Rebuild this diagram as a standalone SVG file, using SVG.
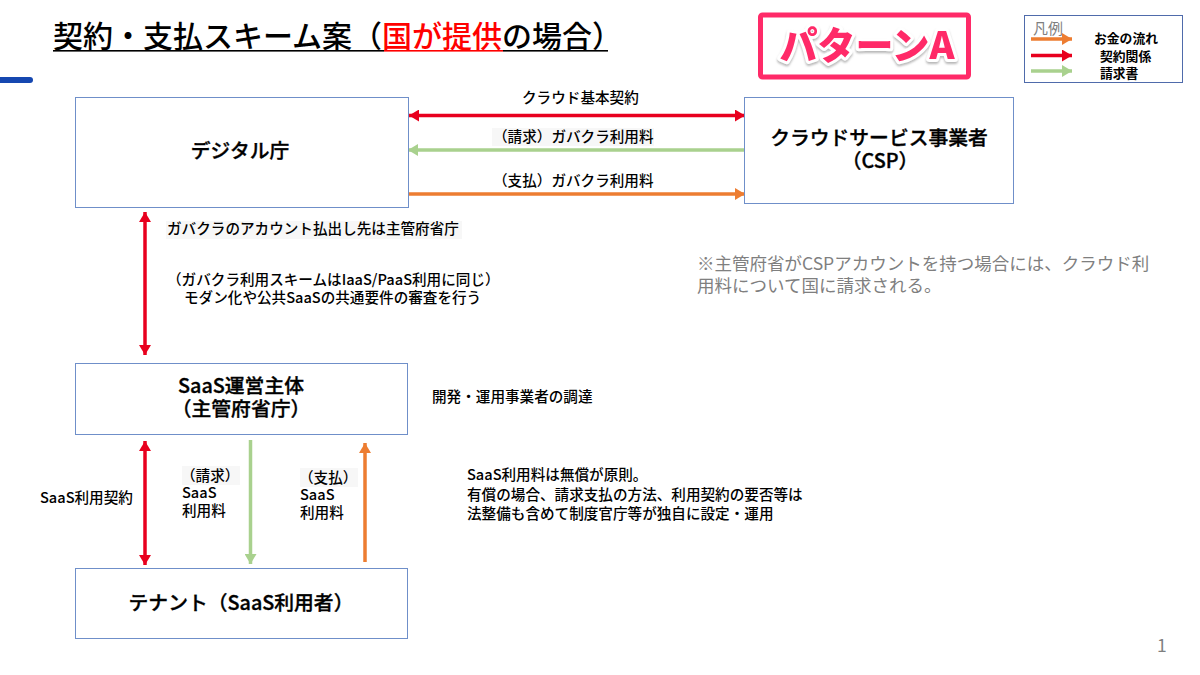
<svg xmlns="http://www.w3.org/2000/svg" width="1200" height="675" viewBox="0 0 1200 675">
<style>
text{font-family:"Noto Sans CJK JP","Liberation Sans",sans-serif;fill:#000;text-spacing-trim:space-all}
.box{fill:#fff;stroke:#6f8fc9;stroke-width:1}
.node{font-size:19.8px;font-weight:500;text-anchor:middle;stroke:#000;stroke-width:.35}
.lab{font-size:14.6px;font-weight:500}
.leg{font-size:12.8px;font-weight:700}
.gray{fill:#7f7f7f;font-size:17.5px;font-weight:400}
.pat{fill:#ff2a68;font-size:38px;font-weight:900;text-anchor:middle;stroke:#fff;stroke-width:6;stroke-linejoin:round;paint-order:stroke;filter:url(#sh)}
.shade{fill:#f7f7f7}
.r{stroke:#e8001e;stroke-width:3.5;fill:none}
.g{stroke:#a9d18e;stroke-width:3.5;fill:none}
.o{stroke:#ed7d31;stroke-width:3.5;fill:none}
</style>
<defs>
<filter id="sh" x="-10%" y="-20%" width="120%" height="150%"><feDropShadow dx="0" dy="2" stdDeviation="1.2" flood-color="#999" flood-opacity=".7"/></filter>
<marker id="hr" markerUnits="userSpaceOnUse" markerWidth="11" markerHeight="12" refX="10" refY="6" orient="auto-start-reverse"><path d="M0 0L10 6L0 12Z" fill="#e8001e"/></marker>
<marker id="hg" markerUnits="userSpaceOnUse" markerWidth="11" markerHeight="12" refX="10" refY="6" orient="auto"><path d="M0 0L10 6L0 12Z" fill="#a9d18e"/></marker>
<marker id="ho" markerUnits="userSpaceOnUse" markerWidth="11" markerHeight="12" refX="10" refY="6" orient="auto"><path d="M0 0L10 6L0 12Z" fill="#ed7d31"/></marker>
</defs>
<rect width="1200" height="675" fill="#fff"/>
<g id="title">
<text x="53" y="47" font-size="30" font-weight="500">契約・支払スキーム案（<tspan style="fill:#ff0000">国が提供</tspan>の場合）</text>
<rect x="53" y="50" width="331" height="1.6" fill="#000"/>
<rect x="384" y="50" width="119" height="1.6" fill="#ff0000"/>
<rect x="503" y="50" width="105" height="1.6" fill="#000"/>
</g>
<rect id="accent" x="-6" y="77" width="39" height="6" rx="3" fill="#1547b0"/>
<g id="pattern-a">
<rect x="760.500" y="15" width="208" height="62" rx="2" fill="#fff" stroke="#ff2a68" stroke-width="5"/>
<text class="pat" x="867" y="59">パターンA</text>
</g>
<g id="legend">
<rect x="1024.500" y="15.500" width="158" height="67" fill="#fff" stroke="#4f6bab"/>
<text x="1033" y="34" font-size="15" style="fill:#7f7f7f">凡例</text>
<text x="1094" y="43" class="leg">お金の流れ</text>
<text x="1100" y="61" class="leg">契約関係</text>
<text x="1100" y="78" class="leg">請求書</text>
</g>
<g id="connectors">
<line class="o" x1="1031" y1="39" x2="1072" y2="39" marker-end="url(#ho)"/>
<line class="r" x1="1031" y1="55.500" x2="1072" y2="55.500" marker-end="url(#hr)"/>
<line class="g" x1="1031" y1="71" x2="1072" y2="71" marker-end="url(#hg)"/>
<line class="r" x1="409" y1="115.500" x2="745" y2="115.500" marker-start="url(#hr)" marker-end="url(#hr)"/>
<line class="g" x1="744" y1="150" x2="408" y2="150" marker-end="url(#hg)"/>
<line class="o" x1="409" y1="194" x2="745" y2="194" marker-end="url(#ho)"/>
<line class="r" x1="145" y1="212" x2="145" y2="355" marker-start="url(#hr)" marker-end="url(#hr)"/>
<line class="r" x1="145" y1="441" x2="145" y2="565" marker-start="url(#hr)" marker-end="url(#hr)"/>
<line class="g" x1="250.500" y1="440" x2="250.500" y2="564" marker-end="url(#hg)"/>
<line class="o" x1="365" y1="562" x2="365" y2="443" marker-end="url(#ho)"/>
</g>
<g id="node-digital"><rect class="box" x="75.500" y="97.500" width="333" height="110"/><text class="node" x="240" y="158">デジタル庁</text></g>
<g id="node-csp"><rect class="box" x="744.500" y="97.500" width="269" height="106"/><text class="node" x="879" y="145">クラウドサービス事業者</text><text class="node" x="880" y="168">（CSP）</text></g>
<g id="node-saas"><rect class="box" x="75.500" y="363.500" width="332" height="71"/><text class="node" x="241" y="393">SaaS運営主体</text><text class="node" x="241" y="416">（主管府省庁）</text></g>
<g id="node-tenant"><rect class="box" x="75.500" y="568.500" width="332" height="70"/><text class="node" x="241" y="610">テナント（SaaS利用者）</text></g>
<g id="labels">
<text class="lab" x="522" y="103">クラウド基本契約</text>
<rect class="shade" x="492" y="128" width="162" height="18"/>
<text class="lab" x="493" y="142">（請求）ガバクラ利用料</text>
<text class="lab" x="493" y="186">（支払）ガバクラ利用料</text>
<rect class="shade" x="166" y="221" width="296" height="18"/>
<text class="lab" x="167" y="234">ガバクラのアカウント払出し先は主管府省庁</text>
<text class="lab" x="167" y="285">（ガバクラ利用スキームはIaaS/PaaS利用に同じ）</text>
<text class="lab" x="184" y="303">モダン化や公共SaaSの共通要件の審査を行う</text>
<text class="lab" x="432" y="402">開発・運用事業者の調達</text>
<text class="lab" x="467" y="480">SaaS利用料は無償が原則。</text>
<text class="lab" x="467" y="500">有償の場合、請求支払の方法、利用契約の要否等は</text>
<text class="lab" x="467" y="519">法整備も含めて制度官庁等が独自に設定・運用</text>
<text class="lab" x="40" y="503">SaaS利用契約</text>
<rect class="shade" x="182" y="466" width="58" height="19"/>
<text class="lab" x="181" y="481">（請求）</text>
<text class="lab" x="182" y="498">SaaS</text>
<text class="lab" x="182" y="516">利用料</text>
<rect class="shade" x="300" y="468" width="58" height="19"/>
<text class="lab" x="299" y="483">（支払）</text>
<text class="lab" x="300" y="500">SaaS</text>
<text class="lab" x="300" y="518">利用料</text>
<text class="gray" x="697" y="270">※主管府省がCSPアカウントを持つ場合には、クラウド利</text>
<text class="gray" x="697" y="292">用料について国に請求される。</text>
<text class="gray" x="1157" y="652">1</text>
</g>
</svg>
